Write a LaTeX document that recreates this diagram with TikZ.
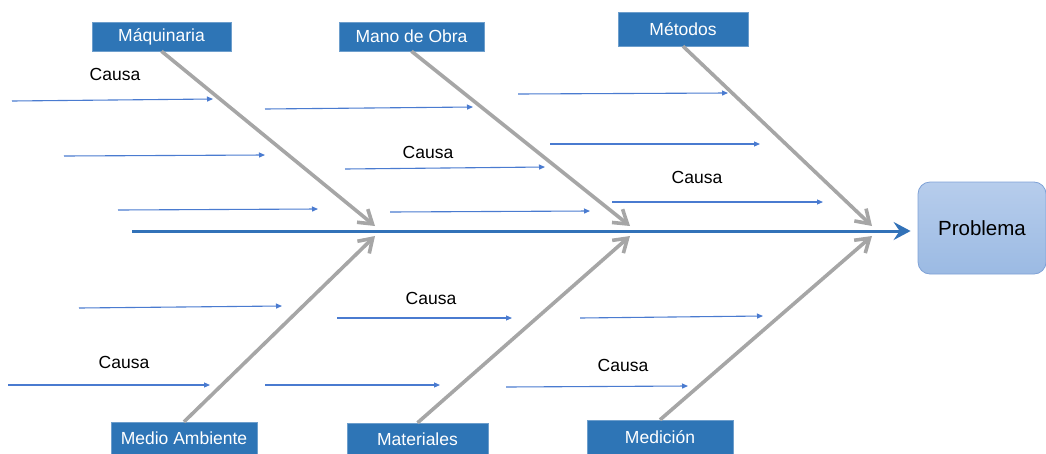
\documentclass[tikz,border=0pt]{standalone}
\usepackage{fontspec}
\setmainfont{Liberation Sans}
\usetikzlibrary{arrows.meta}
\definecolor{catblue}{HTML}{2E75B6}
\definecolor{spineblue}{HTML}{3272B8}
\definecolor{causeblue}{HTML}{4A7BD0}
\definecolor{bonegray}{HTML}{A6A6A6}
\definecolor{probtop}{HTML}{B7CDEC}
\definecolor{probbot}{HTML}{9BBAE3}
\definecolor{probedge}{HTML}{7FA2D6}
\tikzset{
  category/.style={fill=catblue, draw=catblue!70!white, text=white,
    font=\fontsize{17.5}{20}\selectfont, inner sep=0pt, anchor=center},
  causetext/.style={font=\fontsize{17.5}{20}\selectfont, text=black},
  spine/.style={draw=spineblue, line width=3pt,
    -{Stealth[length=17pt,width=18pt,inset=6pt]}},
  bone/.style={draw=bonegray, line width=3.6pt,
    -{Straight Barb[length=13pt,width=17pt,line width=3.6pt]}},
  cause/.style={draw=causeblue, line width=1.1pt,
    -{Triangle[length=6pt,width=5pt]}},
  problem/.style={rounded corners=12pt, draw=probedge, line width=0.8pt,
    top color=probtop, bottom color=probbot,
    font=\fontsize{20.5}{24}\selectfont, text=black}
}
\begin{document}
\begin{tikzpicture}[x=1pt,y=-1pt]
  \useasboundingbox (0,0) rectangle (1046,453);

  % head of the fish
  \node[problem, minimum width=128pt, minimum height=92pt] (prob) at (982,228) {Problema};

  % main spine, horizontal, stopping just short of the head
  \coordinate (tail) at (132,231);
  \draw[spine, shorten >=7pt] (tail) -- (tail -| prob.west);

  % category boxes
  \node[category, minimum width=139pt, minimum height=29pt] (maq) at (161.5,36.5) {Máquinaria};
  \node[category, minimum width=145pt, minimum height=29pt] (mano) at (411.5,36.5) {Mano de Obra};
  \node[category, minimum width=130pt, minimum height=34pt] (met) at (683,29) {Métodos};
  \node[category, minimum width=146pt, minimum height=32pt] (medio) at (184,438) {Medio Ambiente};
  \node[category, minimum width=141pt, minimum height=32pt] (mat) at (417.5,439) {Materiales};
  \node[category, minimum width=146pt, minimum height=34pt] (medic) at (660,437) {Medición};

  % joints on the spine
  \coordinate (j1t) at (375,226);
  \coordinate (j2t) at (630,226);
  \coordinate (j3t) at (872,226);
  \coordinate (j1b) at (375,236);
  \coordinate (j2b) at (630,236);
  \coordinate (j3b) at (872,236);

  % bones
  \draw[bone] (maq.south) -- (j1t);
  \draw[bone] (mano.south) -- (j2t);
  \draw[bone] (met.south) -- (j3t);
  \draw[bone] (medio.north) -- (j1b);
  \draw[bone] (mat.north) -- (j2b);
  \draw[bone] (medic.north) -- (j3b);

  % cause arrows
  \foreach \i/\xa/\ya/\xb/\yb in {
      1/12/101/213/99, 2/64/156/265/155, 3/118/210/318/209,
      4/265/109/473/107, 5/345/169/545/167, 6/390/212/590/211,
      7/518/94/728/93, 8/550/144/760/144, 9/612/202/823/202,
      10/79/308/282/306, 11/8/385/210/385,
      12/337/318/512/318, 13/265/385/440/385,
      14/580/318/763/316, 15/506/387/688/386} {
    \coordinate (cs\i) at (\xa,\ya);
    \coordinate (ce\i) at (\xb,\yb);
    \draw[cause] (cs\i) -- (ce\i);
  }

  % cause labels
  \node[causetext] (l1) at (115,74) {Causa};
  \node[causetext] (l2) at (428,152) {Causa};
  \node[causetext] (l3) at (697,177) {Causa};
  \node[causetext] (l4) at (431,298) {Causa};
  \node[causetext] (l5) at (124,362) {Causa};
  \node[causetext] (l6) at (623,365) {Causa};
\end{tikzpicture}
\end{document}
